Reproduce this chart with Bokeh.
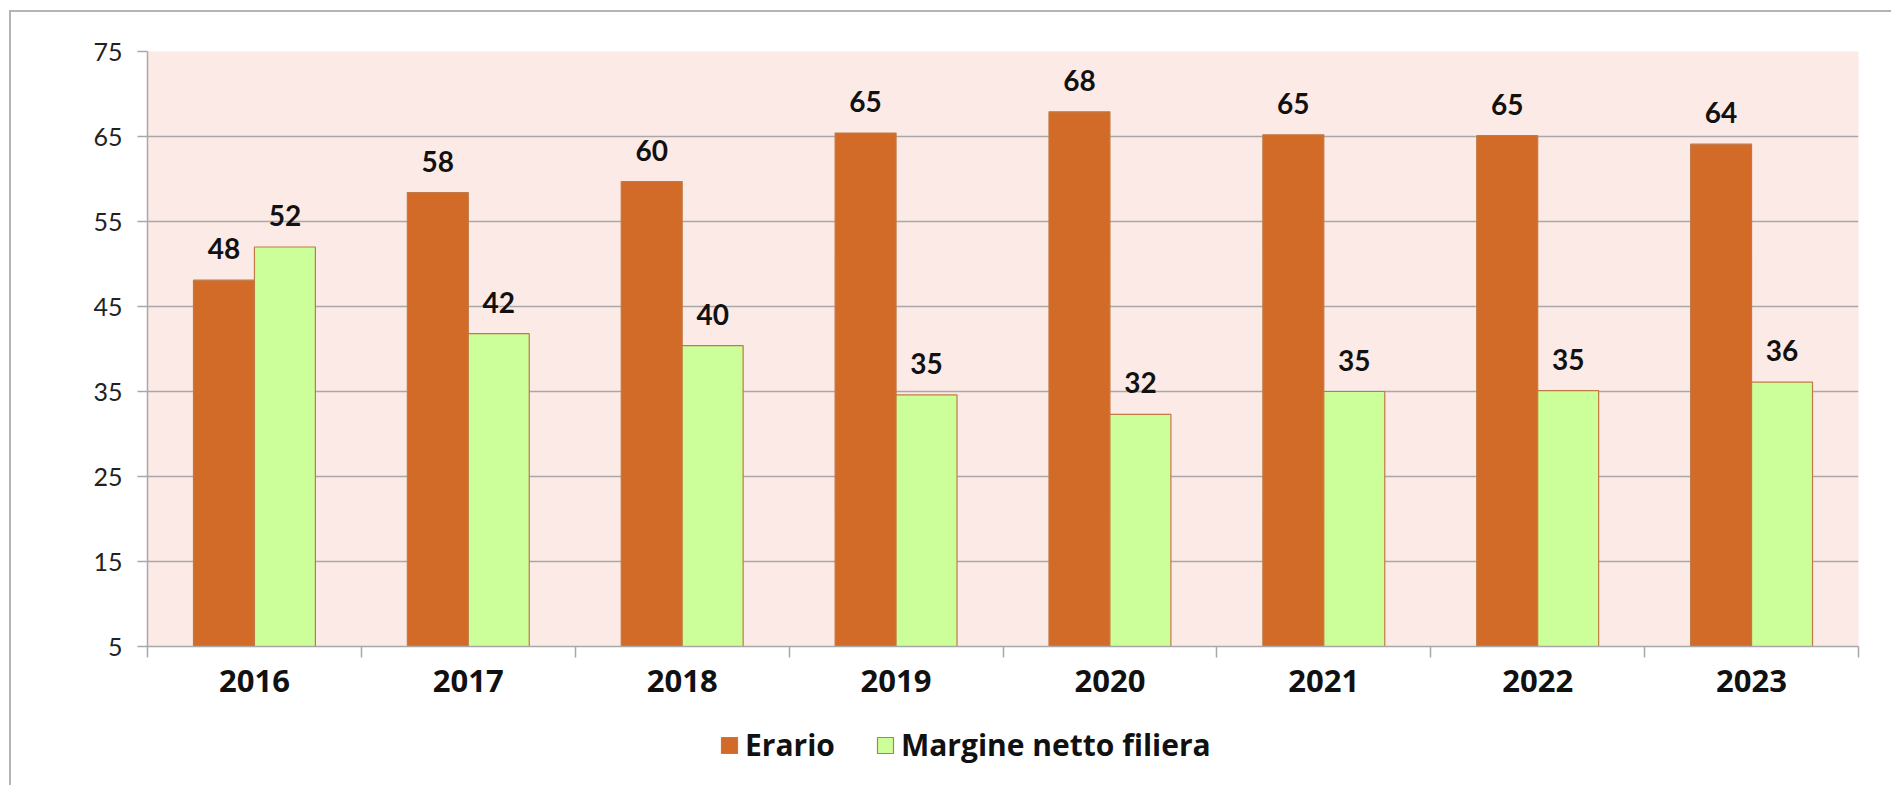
from bokeh.plotting import figure
from bokeh.models import (ColumnDataSource, FixedTicker, LabelSet, Legend, LegendItem)
from bokeh.layouts import column
from bokeh.transform import dodge
from bokeh.core.properties import value
from bokeh.embed import file_html
from bokeh.resources import INLINE

# ---- data ----
years = ["2016", "2017", "2018", "2019", "2020", "2021", "2022", "2023"]
erario = [48.1, 58.4, 59.7, 65.4, 67.9, 65.2, 65.1, 64.1]
margine = [52.0, 41.8, 40.4, 34.6, 32.3, 35.0, 35.1, 36.1]
y_ticks = [5, 15, 25, 35, 45, 55, 65, 75]
series_names = ["Erario", "Margine netto filiera"]

n = len(years)
centers = [i + 0.5 for i in range(n)]
src = ColumnDataSource(dict(
    xc=centers,
    erario=erario,
    margine=margine,
    erario_txt=["{:.0f}".format(v) for v in erario],
    margine_txt=["{:.0f}".format(v) for v in margine],
))

ORANGE = "#D26A28"
GREEN = "#CCFF99"
EDGE = "#C07A45"
GRID = "#A8A8A8"
PINK = "#FCEAE6"

W = 1880
p = figure(width=W, height=706, x_range=(0, n), y_range=(y_ticks[0], y_ticks[-1]),
           output_backend="svg", toolbar_location=None,
           min_border_left=136, min_border_right=33, min_border_top=39, min_border_bottom=72)
p.background_fill_color = PINK
p.border_fill_color = "white"
p.outline_line_color = None

bw = 0.285
off = 0.1425
bar_styles = [dict(fill_color=ORANGE, line_color=EDGE, line_width=1.2),
              dict(fill_color=GREEN, line_color=EDGE, line_width=1.2)]
r1 = p.vbar(x=dodge("xc", -off), top="erario", bottom=y_ticks[0], width=bw, source=src,
            **bar_styles[0])
r2 = p.vbar(x=dodge("xc", off), top="margine", bottom=y_ticks[0], width=bw, source=src,
            **bar_styles[1])

for col, txt, o in (("erario", "erario_txt", -off), ("margine", "margine_txt", off)):
    p.add_layout(LabelSet(x=dodge("xc", o), y=col, text=txt, source=src,
                          text_align="center", text_baseline="alphabetic", y_offset=21,
                          text_font=value("Lato"), text_font_style="bold",
                          text_font_size="28px", text_color="#111111"))

# y axis
yt = FixedTicker(ticks=y_ticks)
p.yaxis.ticker = yt
p.ygrid.ticker = yt
p.ygrid.grid_line_color = GRID
p.ygrid.grid_line_width = 1.5
p.xgrid.visible = False
p.yaxis.axis_line_color = GRID
p.yaxis.axis_line_width = 1.5
p.yaxis.major_tick_line_color = GRID
p.yaxis.major_tick_line_width = 1.5
p.yaxis.major_tick_out = 10
p.yaxis.major_tick_in = 0
p.yaxis.minor_tick_line_color = None
p.yaxis.major_label_standoff = 15
p.yaxis.major_label_text_font = "Lato"
p.yaxis.major_label_text_font_size = "25px"
p.yaxis.major_label_text_color = "#222222"

# x axis: labels at centres, ticks at category boundaries
xt = FixedTicker(ticks=centers, minor_ticks=list(range(n + 1)))
p.xaxis.ticker = xt
p.xaxis.major_label_overrides = {c: y for c, y in zip(centers, years)}
p.xaxis.axis_line_color = GRID
p.xaxis.axis_line_width = 1.5
p.xaxis.major_tick_line_color = None
p.xaxis.major_tick_out = 0
p.xaxis.major_tick_in = 0
p.xaxis.minor_tick_line_color = GRID
p.xaxis.minor_tick_line_width = 1.5
p.xaxis.minor_tick_out = 11
p.xaxis.minor_tick_in = 0
p.xaxis.major_label_standoff = 12
p.xaxis.major_label_text_font = "Open Sans"
p.xaxis.major_label_text_font_style = "bold"
p.xaxis.major_label_text_font_size = "31px"
p.xaxis.major_label_text_color = "#111111"

# legend strip below the chart (its bars lie far outside its own ranges; only the legend shows)
lf = figure(width=W, height=67, x_range=(-3, -2), y_range=(200, 201),
            output_backend="svg", toolbar_location=None,
            min_border_left=0, min_border_right=0, min_border_top=0, min_border_bottom=0)
lf.axis.visible = False
lf.grid.visible = False
lf.outline_line_color = None
lf.background_fill_color = "white"
lf.border_fill_color = "white"
g1 = lf.vbar(x=dodge("xc", -off), top="erario", bottom=y_ticks[0], width=bw, source=src,
             **bar_styles[0])
g2 = lf.vbar(x=dodge("xc", off), top="margine", bottom=y_ticks[0], width=bw, source=src,
             **bar_styles[1])
legend = Legend(items=[LegendItem(label=series_names[0], renderers=[g1]),
                       LegendItem(label=series_names[1], renderers=[g2])],
                orientation="horizontal", location=(572, 20),
                padding=0, margin=0, spacing=40, label_standoff=6,
                glyph_width=20, glyph_height=20,
                border_line_color=None, background_fill_alpha=0,
                label_text_font="Open Sans", label_text_font_style="bold",
                label_text_font_size="30px", label_text_color="#111111")
lf.add_layout(legend, "center")

layout = column(p, lf, spacing=0)
layout.styles = {"border-top": "2px solid #B4B4B4", "border-left": "2px solid #B4B4B4",
                 "margin-left": "9px", "margin-top": "10px"}

open("out.html", "w").write(file_html(layout, INLINE))
